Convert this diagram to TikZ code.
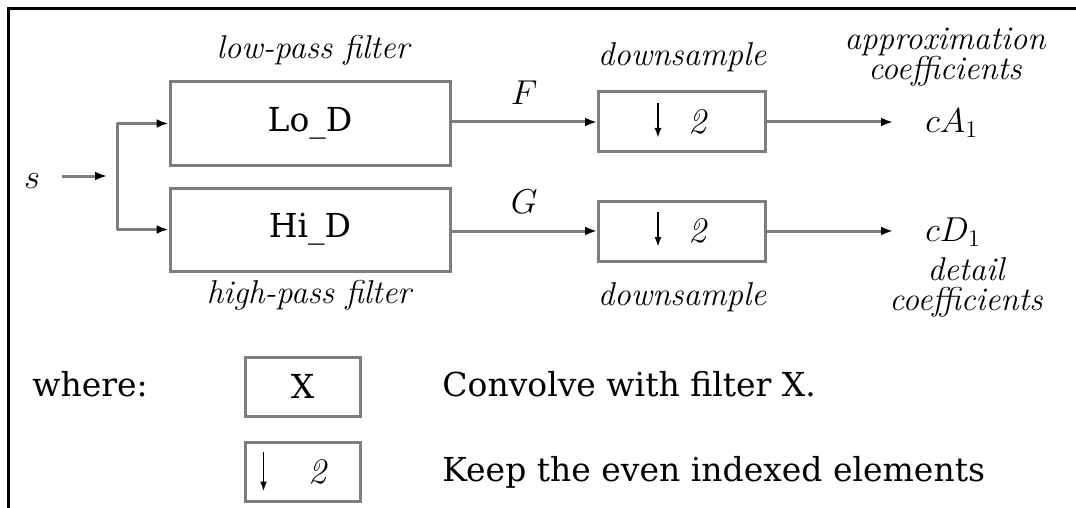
\documentclass[tikz,border=0pt]{standalone}
\usepackage{fontspec}
\newfontfamily\dvserif{DejaVu Serif}
\usetikzlibrary{arrows.meta}
\definecolor{lgray}{RGB}{125,125,125}
\begin{document}
\begin{tikzpicture}[x=0.5pt,y=-0.5pt,
  box/.style={draw=lgray,line width=1.5pt,rectangle,inner sep=0pt},
  filt/.style={box,minimum width=140pt,minimum height=41.5pt,font=\dvserif\fontsize{16.5}{20}\selectfont},
  dsbox/.style={box,minimum width=83.5pt,minimum height=30pt},
  legbox/.style={box,minimum width=57.5pt,minimum height=29.5pt,font=\dvserif\fontsize{16.5}{20}\selectfont},
  conn/.style={draw=lgray,line width=1.5pt},
  arr/.style={conn,-{Latex[length=6pt,width=4.5pt,color=black]}},
  dnarr/.style={draw=black,line width=0.9pt,-{Latex[length=5pt,width=3.5pt]}},
  itl/.style={font=\fontsize{16.5}{15}\selectfont\itshape,inner sep=0pt},
  rm/.style={font=\dvserif\fontsize{16.5}{20}\selectfont,inner sep=0pt},
  mth/.style={font=\fontsize{18}{20}\selectfont,inner sep=0pt},
  frame/.style={draw=black,line width=1.5pt}
]
\useasboundingbox (0,0) rectangle (1076,508);
% frame
\draw[frame] (8,508) -- (8,9) -- (1076,9);

% filter boxes
\node[filt] (lo) at (310,123.5) {Lo\_D};
\node[filt] (hi) at (310,229.5) {Hi\_D};
\node[itl] (lolab) at (313,50) {low-pass filter};
\node[itl] (hilab) at (309,295) {high-pass filter};

% downsample boxes
\node[dsbox] (ds1) at (682,122) {};
\node[dsbox] (ds2) at (682,231) {};
\draw[dnarr] ([xshift=-12pt,yshift=9.5pt]ds1.center) -- ([xshift=-12pt,yshift=-8pt]ds1.center);
\draw[dnarr] ([xshift=-12pt,yshift=9.5pt]ds2.center) -- ([xshift=-12pt,yshift=-8pt]ds2.center);
\node[mth] (two1) at ([xshift=8pt]ds1.center) {\textit{2}};
\node[mth] (two2) at ([xshift=8pt]ds2.center) {\textit{2}};
\node[itl] (dslab1) at (682,57) {downsample};
\node[itl] (dslab2) at (682,297) {downsample};

% input
\node[mth] (s) at (32,181) {$s$};
\coordinate (sin) at (62,176);
\coordinate (sout) at (107,176);
\coordinate (jt) at (117,123.5);
\coordinate (jb) at (117,229.5);
\draw[arr] (sin) -- (sout);
\draw[conn] (jt) -- (jb);
\draw[arr] (jt) -- (lo.west);
\draw[arr] (jb) -- (hi.west);

% filter to downsample
\draw[arr] (lo.east |- ds1.west) -- (ds1.west) node[midway,above=8pt,mth] (F) {$F$};
\draw[arr] (hi.east |- ds2.west) -- (ds2.west) node[midway,above=8pt,mth] (G) {$G$};

% outputs
\node[mth,anchor=west] (cA) at (925,123) {$cA_1$};
\node[mth,anchor=west] (cD) at (925,232) {$cD_1$};
\draw[arr] (ds1.east) -- ([xshift=-16pt]cA.west |- ds1.east);
\draw[arr] (ds2.east) -- ([xshift=-16pt]cD.west |- ds2.east);
\node[itl,align=center] (alab) at (945,57) {approximation\\coefficients};
\node[itl,align=center] (dlab) at (966,287) {detail\\coefficients};

% legend
\node[rm,anchor=base west] (where) at (32,396) {where:};
\node[legbox] (legX) at (302.5,386.5) {X};
\node[legbox] (legD) at (302.5,471.5) {};
\draw[dnarr] ([xshift=-19.5pt,yshift=10pt]legD.center) -- ([xshift=-19.5pt,yshift=-10pt]legD.center);
\node[mth] (two3) at ([xshift=8pt]legD.center) {\textit{2}};
\node[rm,anchor=base west] (convtxt) at (442,396) {Convolve with filter X.};
\node[rm,anchor=base west] (keeptxt) at (442,481) {Keep the even indexed elements};
\end{tikzpicture}
\end{document}
